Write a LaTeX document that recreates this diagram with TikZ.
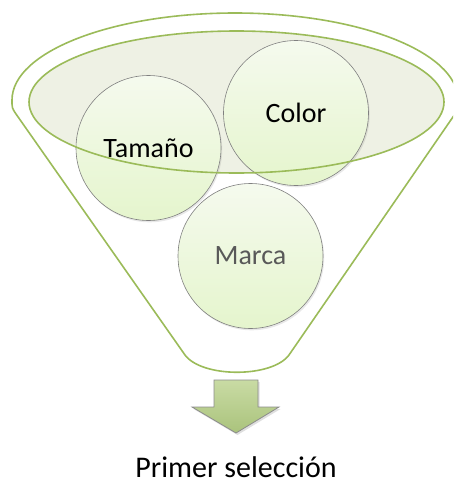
\documentclass[tikz,border=0pt]{standalone}
\usepackage{fontspec}
\setmainfont{Carlito}
\usetikzlibrary{shadows}
\definecolor{fgreen}{HTML}{9BBB59}
\definecolor{efill}{HTML}{EEF1E4}
\definecolor{ctop}{HTML}{F5FAEE}
\definecolor{cbot}{HTML}{E5F5CD}
\definecolor{atop}{HTML}{C9DBA4}
\definecolor{abot}{HTML}{AAC37C}
\definecolor{txtgray}{HTML}{595959}
\begin{document}
\begin{tikzpicture}[x=1pt,y=-1pt,
  funnel/.style={draw=fgreen,line width=1.6pt},
  ball/.style={circle,minimum size=145pt,inner sep=0pt,draw=black!50,line width=0.6pt,
     top color=ctop,bottom color=cbot,
     drop shadow={opacity=0.18,shadow xshift=1.2pt,shadow yshift=-1.8pt},
     font=\fontsize{28}{30}\selectfont},
  lbl/.style={font=\fontsize{30}{32}\selectfont}]
\useasboundingbox (0,0) rectangle (453,485);
\begin{scope}
\clip (0,0) rectangle (453,485);
% outer funnel
\draw[funnel,fill=white] (185,355) -- (16,114) .. controls (12,108) .. (12,100)
  arc[start angle=180,end angle=360,x radius=223,y radius=87]
  .. controls (458,108) .. (455,114) -- (289,355)
  .. controls (272,378) and (202,378) .. (185,355) -- cycle;
% inner ellipse fill
\fill[efill] (236.5,102) ellipse[x radius=207.5,y radius=71];
% balls
\node[ball] (tam) at (148.5,148) {Tamaño};
\node[ball] (col) at (296,113) {Color};
\node[ball,text=txtgray] (mar) at (250.5,256) {Marca};
% inner ellipse outline on top
\draw[funnel] (236.5,102) ellipse[x radius=207.5,y radius=71];
\end{scope}
% arrow
\path[draw=black!45,line width=0.8pt,top color=atop,bottom color=abot,
  drop shadow={opacity=0.25,shadow xshift=1.5pt,shadow yshift=-2pt}]
  (214,380) -- (258,380) -- (258,407) -- (279,407) -- (236,433) -- (192,407) -- (214,407) -- cycle;
\node[lbl,anchor=base,inner sep=0pt] (out) at (236,477) {Primer selección};
\end{tikzpicture}
\end{document}
